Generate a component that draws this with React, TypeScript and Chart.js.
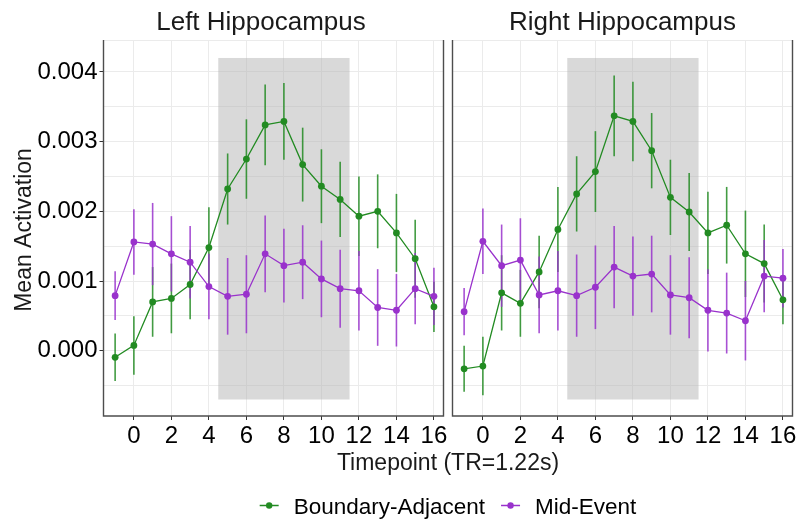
import React, { useEffect, useRef } from 'react';
import { Chart, registerables } from 'chart.js';

Chart.register(...registerables);

// ---------- data ----------
const timepoints = [-1, 0, 1, 2, 3, 4, 5, 6, 7, 8, 9, 10, 11, 12, 13, 14, 15, 16];
const xTickValues = [0, 2, 4, 6, 8, 10, 12, 14, 16];
const yMajorTicks = [0, 0.001, 0.002, 0.003, 0.004];
const yMinorTicks = [-0.0005, 0.0005, 0.0015, 0.0025, 0.0035];

const leftBoundaryMean = [-0.000095, 0.000076, 0.0007, 0.00075, 0.00095, 0.00148, 0.00232, 0.00275, 0.00324, 0.00329, 0.00267, 0.00236, 0.00217, 0.00193, 0.002, 0.00169, 0.00132, 0.00063];
const leftBoundarySE = [0.00034, 0.00042, 0.0005, 0.0005, 0.0005, 0.00058, 0.00051, 0.00057, 0.00058, 0.00055, 0.00053, 0.00053, 0.00054, 0.00057, 0.00053, 0.00056, 0.00056, 0.00036];
const leftMidMean = [0.00079, 0.00156, 0.00153, 0.00139, 0.00127, 0.00092, 0.00078, 0.00081, 0.00139, 0.00122, 0.00127, 0.00103, 0.00089, 0.00086, 0.00062, 0.00058, 0.00089, 0.00078];
const leftMidSE = [0.00035, 0.00047, 0.00059, 0.00054, 0.00052, 0.00047, 0.00055, 0.00056, 0.00055, 0.00053, 0.00053, 0.00055, 0.00056, 0.00057, 0.00055, 0.00052, 0.00051, 0.00041];
const rightBoundaryMean = [-0.00026, -0.00022, 0.00083, 0.00068, 0.00113, 0.00174, 0.00225, 0.00257, 0.00337, 0.00329, 0.00287, 0.0022, 0.00199, 0.00169, 0.0018, 0.00139, 0.00125, 0.00073];
const rightBoundarySE = [0.00033, 0.00042, 0.00054, 0.00048, 0.00052, 0.00061, 0.00054, 0.00058, 0.00058, 0.00057, 0.00054, 0.00054, 0.00056, 0.00059, 0.00055, 0.00062, 0.00056, 0.00035];
const rightMidMean = [0.00056, 0.00157, 0.00122, 0.0013, 0.0008, 0.00086, 0.00079, 0.00091, 0.0012, 0.00107, 0.0011, 0.0008, 0.00076, 0.00058, 0.00054, 0.00043, 0.00107, 0.00104];
const rightMidSE = [0.00034, 0.00047, 0.00059, 0.0006, 0.00055, 0.00057, 0.00059, 0.0006, 0.00059, 0.00057, 0.00055, 0.00057, 0.00058, 0.00059, 0.00058, 0.00057, 0.00052, 0.00042];

const eventWindowX = [4.5, 11.5];
const eventWindowY = [-0.0007, 0.0042];

const seriesNames = ['Boundary-Adjacent', 'Mid-Event'];
const panelTitles = ['Left Hippocampus', 'Right Hippocampus'];
const xAxisTitle = 'Timepoint (TR=1.22s)';
const yAxisTitle = 'Mean Activation';

// ---------- style ----------
const GREEN = '#228B22';
const PURPLE = '#9932CC';
const GREEN_ERR = 'rgba(34,139,34,0.85)';
const PURPLE_ERR = 'rgba(153,50,204,0.85)';
const FONT = "'Liberation Sans', Arial, sans-serif";
const GRID = '#EBEBEB';
const BORDER = '#4D4D4D';
const TICK_SIZE = 24;
const AXIS_TITLE_SIZE = 23;
const LEGEND_SIZE = 22.5;

const X_MIN = -1.62;
const X_MAX = 16.51;
const Y_MIN = -0.000937;
const Y_MAX = 0.004458;

const W = 800;
const H = 525;
const PLOT_TOP = 40;
const PLOT_BOTTOM = 416;
const X_AXIS_H = 40;

type Panel = {
  title: string;
  titleX: number;
  left: number;
  right: number;
  yWidth: number;
  showY: boolean;
  showShared: boolean;
  boundary: number[];
  boundarySE: number[];
  mid: number[];
  midSE: number[];
};

const panels: Panel[] = [
  { title: panelTitles[0], titleX: 261, left: 103.5, right: 443.5, yWidth: 103.5, showY: true, showShared: true,
    boundary: leftBoundaryMean, boundarySE: leftBoundarySE, mid: leftMidMean, midSE: leftMidSE },
  { title: panelTitles[1], titleX: 622.5, left: 452.5, right: 792.5, yWidth: 0, showY: false, showShared: false,
    boundary: rightBoundaryMean, boundarySE: rightBoundarySE, mid: rightMidMean, midSE: rightMidSE },
];

const isMajor = (v: number) => Math.abs(v * 1000 - Math.round(v * 1000)) < 1e-6;

const panelPlugin = {
  id: 'panelDecor',
  beforeDatasetsDraw(chart: any) {
    const p: Panel = chart.options.plugins.panelDecor.panel;
    const { ctx } = chart;
    const xs = chart.scales.x;
    const ys = chart.scales.y;
    ctx.save();
    // event window shading
    const x0 = xs.getPixelForValue(eventWindowX[0]);
    const x1 = xs.getPixelForValue(eventWindowX[1]);
    const y0 = ys.getPixelForValue(eventWindowY[1]);
    const y1 = ys.getPixelForValue(eventWindowY[0]);
    ctx.fillStyle = 'rgba(180,180,180,0.5)';
    ctx.fillRect(x0, y0, x1 - x0, y1 - y0);
    // error bars
    const groups = [
      { m: p.boundary, se: p.boundarySE, c: GREEN_ERR },
      { m: p.mid, se: p.midSE, c: PURPLE_ERR },
    ];
    ctx.lineWidth = 1.6;
    for (const g of groups) {
      ctx.strokeStyle = g.c;
      timepoints.forEach((t, i) => {
        const px = xs.getPixelForValue(t);
        ctx.beginPath();
        ctx.moveTo(px, ys.getPixelForValue(g.m[i] - g.se[i]));
        ctx.lineTo(px, ys.getPixelForValue(g.m[i] + g.se[i]));
        ctx.stroke();
      });
    }
    ctx.restore();
  },
  afterDatasetsDraw(chart: any) {
    const { ctx, chartArea: a } = chart;
    ctx.save();
    ctx.strokeStyle = GRID;
    ctx.lineWidth = 1;
    ctx.beginPath();
    ctx.moveTo(a.left, a.top + 0.5);
    ctx.lineTo(a.right, a.top + 0.5);
    ctx.stroke();
    ctx.strokeStyle = BORDER;
    ctx.lineWidth = 1.4;
    ctx.beginPath();
    ctx.moveTo(a.left, a.top);
    ctx.lineTo(a.left, a.bottom);
    ctx.lineTo(a.right, a.bottom);
    ctx.lineTo(a.right, a.top);
    ctx.stroke();
    ctx.restore();
  },
  afterDraw(chart: any) {
    const p: Panel = chart.options.plugins.panelDecor.panel;
    const { ctx, chartArea: a } = chart;
    ctx.save();
    ctx.fillStyle = '#1A1A1A';
    ctx.font = `26px ${FONT}`;
    ctx.textAlign = 'center';
    ctx.textBaseline = 'alphabetic';
    ctx.fillText(p.title, p.titleX, 29.5);
    if (p.showShared) {
      // y axis title
      ctx.font = `${AXIS_TITLE_SIZE}px ${FONT}`;
      ctx.save();
      ctx.translate(30.5, (a.top + a.bottom) / 2 + 2);
      ctx.rotate(-Math.PI / 2);
      ctx.textAlign = 'center';
      ctx.textBaseline = 'alphabetic';
      ctx.fillText(yAxisTitle, 0, 0);
      ctx.restore();
      // x axis title
      ctx.textAlign = 'center';
      ctx.fillText(xAxisTitle, 448, 470);
      // legend
      ctx.font = `${LEGEND_SIZE}px ${FONT}`;
      ctx.textAlign = 'left';
      const ly = 505.5;
      const items = [
        { name: seriesNames[0], c: GREEN },
        { name: seriesNames[1], c: PURPLE },
      ];
      const widths = items.map((it) => ctx.measureText(it.name).width);
      const keyW = 19;
      const gapKT = 15;
      const gapItem = 16;
      const total = items.reduce((s, it, i) => s + keyW + gapKT + widths[i], 0) + gapItem;
      let x = 448 - total / 2;
      items.forEach((it, i) => {
        ctx.strokeStyle = it.c;
        ctx.lineWidth = 1.5;
        ctx.beginPath();
        ctx.moveTo(x, ly);
        ctx.lineTo(x + keyW, ly);
        ctx.stroke();
        ctx.fillStyle = it.c;
        ctx.beginPath();
        ctx.arc(x + keyW / 2, ly, 3.2, 0, Math.PI * 2);
        ctx.fill();
        ctx.fillStyle = '#000';
        ctx.fillText(it.name, x + keyW + gapKT, ly + 8);
        x += keyW + gapKT + widths[i] + gapItem;
      });
    }
    ctx.restore();
  },
};

function makeConfig(p: Panel): any {
  const mk = (m: number[]) => timepoints.map((t, i) => ({ x: t, y: m[i] }));
  return {
    type: 'line',
    data: {
      datasets: [
        { label: seriesNames[1], data: mk(p.mid), borderColor: PURPLE, backgroundColor: PURPLE,
          borderWidth: 1.3, pointRadius: 3.4, pointBorderWidth: 0, pointHoverRadius: 3.4, order: 1, tension: 0 },
        { label: seriesNames[0], data: mk(p.boundary), borderColor: GREEN, backgroundColor: GREEN,
          borderWidth: 1.3, pointRadius: 3.4, pointBorderWidth: 0, pointHoverRadius: 3.4, order: 2, tension: 0 },
      ],
    },
    options: {
      animation: false,
      responsive: false,
      maintainAspectRatio: false,
      events: [],
      layout: {
        padding: {
          left: p.left - p.yWidth,
          right: W - p.right,
          top: PLOT_TOP,
          bottom: H - PLOT_BOTTOM - X_AXIS_H,
        },
      },
      plugins: {
        legend: { display: false },
        tooltip: { enabled: false },
        title: { display: false },
        panelDecor: { panel: p },
      },
      scales: {
        x: {
          type: 'linear',
          min: X_MIN,
          max: X_MAX,
          afterBuildTicks: (s: any) => { s.ticks = xTickValues.map((v) => ({ value: v })); },
          afterFit: (s: any) => { s.height = X_AXIS_H; },
          border: { display: false },
          grid: { color: GRID, lineWidth: 1, tickLength: 4, tickColor: '#333', drawTicks: true },
          ticks: { font: { family: FONT, size: TICK_SIZE }, color: '#000', padding: 2, maxRotation: 0, autoSkip: false,
            callback: (v: number) => String(v) },
        },
        y: {
          type: 'linear',
          min: Y_MIN,
          max: Y_MAX,
          afterBuildTicks: (s: any) => {
            s.ticks = [...yMinorTicks, ...yMajorTicks].sort((a, b) => a - b).map((v) => ({ value: v }));
          },
          afterFit: (s: any) => { s.width = p.yWidth; },
          border: { display: false },
          grid: {
            color: GRID, lineWidth: 1, tickLength: 4, drawTicks: p.showY,
            tickColor: (c: any) => (c.tick && isMajor(c.tick.value) ? '#333' : 'rgba(0,0,0,0)'),
          },
          ticks: {
            display: p.showY,
            font: { family: FONT, size: TICK_SIZE }, color: '#000', padding: 2,
            callback: (v: number) => (isMajor(v) ? v.toFixed(3) : ''),
          },
        },
      },
    },
    plugins: [panelPlugin],
  };
}

function PanelCanvas({ panel }: { panel: Panel }) {
  const ref = useRef<HTMLCanvasElement | null>(null);
  useEffect(() => {
    if (!ref.current) return;
    const chart = new Chart(ref.current, makeConfig(panel));
    return () => chart.destroy();
  }, [panel]);
  return (
    <canvas
      ref={ref}
      width={W}
      height={H}
      style={{ position: 'absolute', left: 0, top: 0, width: W, height: H }}
    />
  );
}

export default function App() {
  return (
    <div style={{ position: 'absolute', left: 0, top: 0, width: W, height: H, background: '#fff' }}>
      {panels.map((p, i) => (
        <PanelCanvas key={i} panel={p} />
      ))}
    </div>
  );
}
